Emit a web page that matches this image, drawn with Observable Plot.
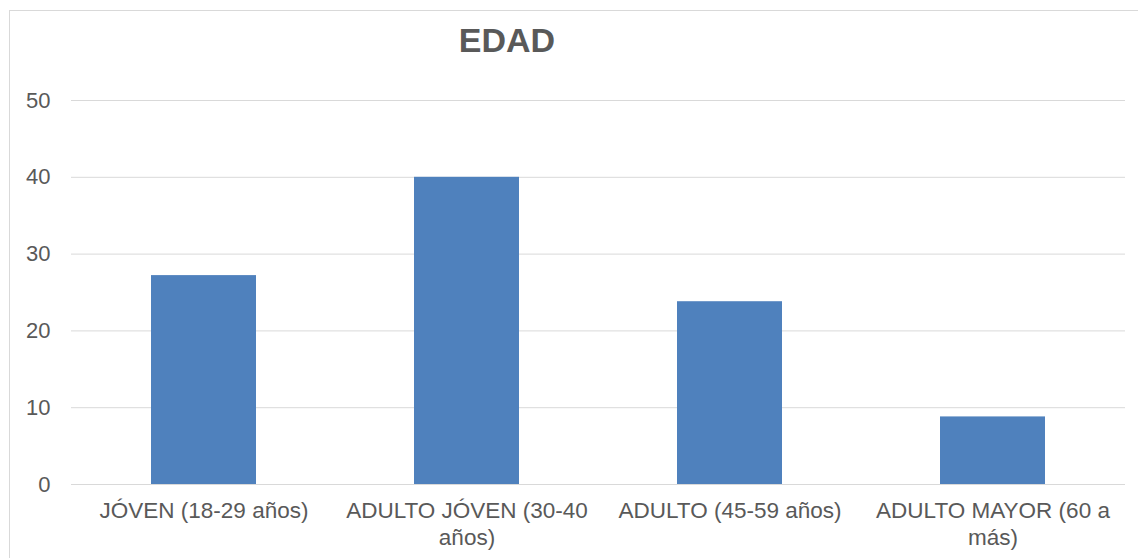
<!DOCTYPE html>
<html>
<head>
<meta charset="utf-8">
<script src="https://cdn.jsdelivr.net/npm/d3@7"></script>
<script src="https://cdn.jsdelivr.net/npm/@observablehq/plot@0.6"></script>
<style>
  html, body { margin: 0; padding: 0; background: #fff; }
  #wrap { position: relative; width: 1138px; height: 558px; overflow: hidden; font-family: "Liberation Sans", Arial, sans-serif; }
  #frame { position: absolute; left: 9px; top: 10px; width: 1200px; height: 600px; border: 1px solid #d9d9d9; box-sizing: border-box; }
  #title { position: absolute; left: 407px; width: 200px; top: 20px; text-align: center; font-size: 34px; font-weight: bold; color: #595959; line-height: 40px; }
  #chart { position: absolute; left: 0; top: 0; }
</style>
</head>
<body>
<div id="wrap">
  <div id="frame"></div>
  <div id="chart"></div>
  <div id="title">EDAD</div>
</div>
<script>
// Age groups and their share of respondents
const categories = ["JÓVEN", "ADULTO JÓVEN", "ADULTO", "ADULTO MAYOR"];
const values = [27.2, 40.0, 23.8, 8.8];
const tickLabels = [
  "JÓVEN (18-29 años)",
  "ADULTO JÓVEN (30-40\naños)",
  "ADULTO (45-59 años)",
  "ADULTO MAYOR (60 a\nmás)"
];
const yTicks = [0, 10, 20, 30, 40, 50];

const rows = categories.map((c, i) => ({ category: c, value: values[i] }));
const labelOf = new Map(categories.map((c, i) => [c, tickLabels[i]]));

const chart = Plot.plot({
  width: 1138,
  height: 558,
  marginLeft: 71,
  marginRight: 13,
  marginTop: 100,
  marginBottom: 74,
  style: { fontFamily: "'Liberation Sans', Arial, sans-serif", fontSize: "22px", color: "#595959", background: "transparent" },
  // equal-width category slots, each bar 40% of its slot
  x: { domain: categories, paddingInner: 0.6, paddingOuter: 0.3, label: null },
  y: { domain: [0, 50], label: null },
  marks: [
    Plot.gridY(yTicks, { stroke: "#d9d9d9", strokeOpacity: 1, strokeWidth: 1 }),
    Plot.barY(rows, { x: "category", y: "value", fill: "#4f81bd" }),
    Plot.axisY(yTicks, { tickSize: 0, tickPadding: 21, fill: "#595959", fontSize: 22, label: null }),
    Plot.axisX({ tickSize: 0, tickPadding: 14, fill: "#595959", fontSize: 22.5, lineHeight: 1.2, tickFormat: d => labelOf.get(d), label: null })
  ]
});
document.getElementById("chart").appendChild(chart);
</script>
</body>
</html>
